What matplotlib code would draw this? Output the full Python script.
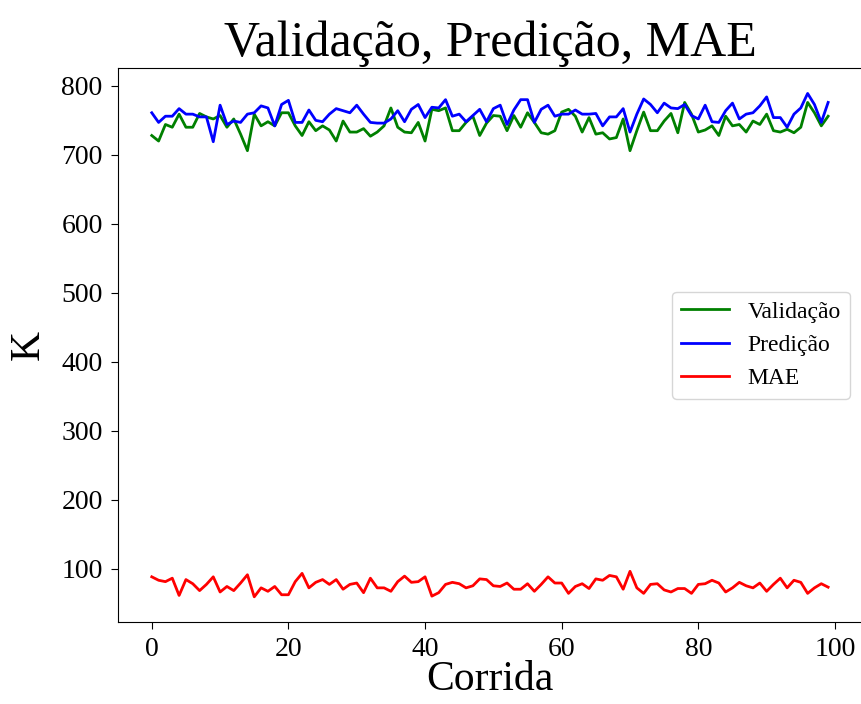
import matplotlib
matplotlib.use("Agg")
import matplotlib.pyplot as plt
import numpy as np

runs = list(range(100))

validacao = [728, 720, 744, 740, 759, 740, 740, 760, 755, 752,
             757, 740, 752, 730, 706, 759, 742, 748, 742, 761,
             761, 742, 728, 748, 735, 742, 736, 720, 749, 733,
             733, 738, 727, 733, 742, 768, 740, 733, 732, 747,
             720, 766, 764, 768, 735, 735, 747, 756, 728, 746,
             757, 756, 735, 757, 740, 761, 747, 732, 730, 735,
             762, 766, 756, 733, 754, 730, 732, 723, 725, 752,
             706, 735, 762, 735, 735, 749, 760, 732, 776, 759,
             733, 736, 742, 728, 756, 742, 744, 733, 749, 744,
             759, 735, 733, 737, 732, 740, 776, 761, 742, 756]

predicao = [761, 747, 756, 756, 767, 759, 759, 755, 755, 719,
            772, 744, 749, 747, 759, 761, 771, 768, 742, 773,
            779, 747, 747, 765, 750, 748, 759, 767, 764, 761,
            772, 759, 747, 746, 746, 752, 764, 748, 766, 773,
            754, 769, 768, 780, 756, 759, 748, 757, 766, 748,
            767, 772, 744, 765, 780, 780, 747, 766, 772, 756,
            759, 759, 765, 759, 759, 760, 742, 755, 755, 767,
            733, 759, 781, 773, 761, 775, 768, 767, 773, 757,
            752, 772, 748, 747, 764, 775, 752, 759, 761, 771,
            784, 754, 754, 740, 759, 768, 789, 773, 747, 776]

mae = [88, 83, 81, 86, 61, 84, 78, 68, 77, 88,
       66, 74, 68, 79, 91, 59, 72, 67, 74, 62,
       62, 81, 93, 72, 80, 84, 77, 84, 70, 77,
       79, 65, 86, 72, 72, 67, 81, 89, 80, 81,
       88, 60, 65, 77, 80, 78, 72, 75, 85, 84,
       75, 74, 79, 70, 70, 78, 67, 77, 88, 79,
       79, 64, 74, 78, 71, 85, 83, 90, 88, 70,
       96, 72, 64, 77, 78, 69, 66, 71, 71, 64,
       77, 78, 83, 79, 66, 72, 80, 75, 72, 79,
       67, 77, 86, 72, 83, 80, 64, 72, 78, 73]

plt.rcParams['font.family'] = ['Liberation Serif', 'DejaVu Serif']

fig = plt.figure(figsize=(8.61, 7.04), dpi=100)
ax = fig.add_axes([0.137, 0.1165, 0.8641, 0.7865])

ax.plot(runs, validacao, color='green', lw=2, label='Validação')
ax.plot(runs, predicao, color='blue', lw=2, label='Predição')
ax.plot(runs, mae, color='red', lw=2, label='MAE')

ax.set_xticks([0, 20, 40, 60, 80, 100])
ax.set_yticks([100, 200, 300, 400, 500, 600, 700, 800])
ax.tick_params(labelsize=20, length=5, pad=6)
ax.set_title('Validação, Predição, MAE', fontsize=36, pad=9)
ax.set_xlabel('Corrida', fontsize=30, labelpad=-1)
ax.set_ylabel('K', fontsize=30, labelpad=10)
ax.legend(loc='center right', fontsize=17)

fig.savefig('out.png', dpi=100)
